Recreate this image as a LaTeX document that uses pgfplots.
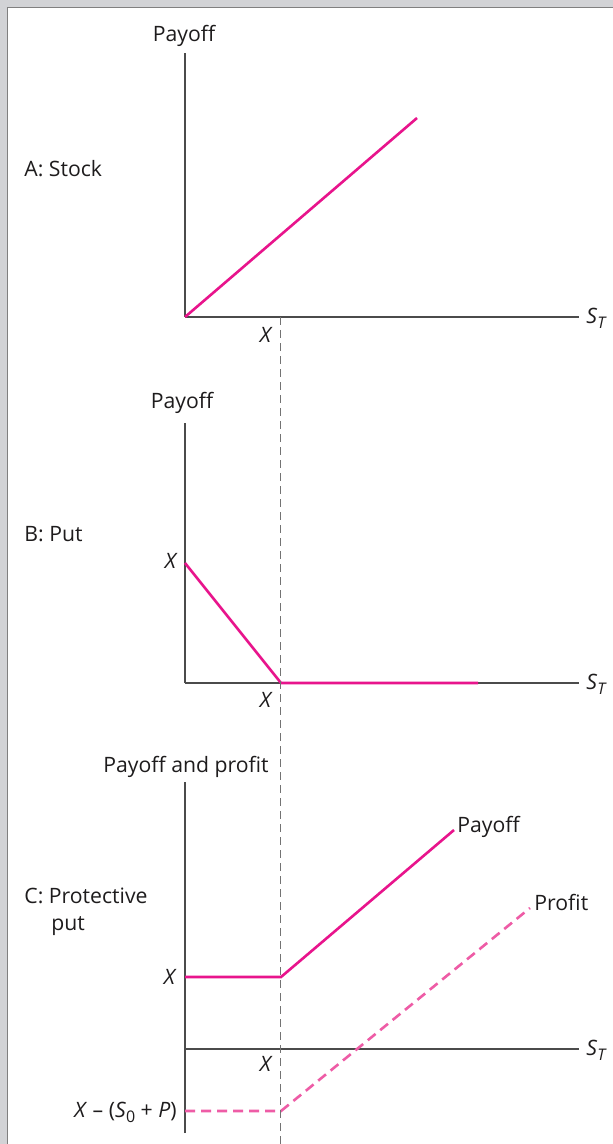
\documentclass[border=0pt]{standalone}
\usepackage{pgfplots}
\pgfplotsset{compat=1.18}
\usepackage{fontspec}
\setmainfont{Open Sans}

\definecolor{payoff}{RGB}{232,20,140}
\definecolor{profit}{RGB}{238,92,166}
\definecolor{axisgray}{RGB}{75,75,75}
\definecolor{framegray}{RGB}{210,211,214}
\definecolor{txt}{RGB}{30,28,29}

% one picture pixel = 0.5pt, so axes use x=y=0.5pt
\pgfplotsset{
  panel/.style={
    x=0.5pt, y=0.5pt,
    axis lines=middle,
    axis line style={-, axisgray, line width=0.8pt},
    xtick=\empty, ytick=\empty,
    xmin=0, clip=false,
    anchor=south west,
  },
}
\newcommand{\sub}[1]{\raisebox{-0.45ex}{\fontsize{8pt}{9pt}\selectfont #1}}
\newcommand{\X}{\textit{X}}
\newcommand{\ST}{\textit{S}\sub{\textit{T}}}

\begin{document}
\begin{tikzpicture}[x=0.5pt, y=-0.5pt,
  every node/.style={font=\fontsize{10.6pt}{13pt}\selectfont, text=txt, inner sep=0pt}]
\useasboundingbox (0,0) rectangle (613,1144);
\fill[framegray] (0,0) rectangle (613,1144);
\fill[white] (8,8) rectangle (613,1144);
\draw[gray, line width=0.5pt] (7.5,1144) -- (7.5,7.5) -- (613,7.5);

% A: Stock
\begin{axis}[panel, at={(92.5pt,-158.5pt)}, xmax=394, ymin=0, ymax=264]
\addplot[payoff, line width=1.3pt] coordinates {(0,0) (232,199)};
\end{axis}

% B: Put
\begin{axis}[panel, at={(92.5pt,-341.5pt)}, xmax=394, ymin=0, ymax=260]
\addplot[payoff, line width=1.3pt] coordinates {(0,120) (96,0) (293,0)};
\end{axis}

% C: Protective put
\begin{axis}[panel, at={(92.5pt,-566.5pt)}, xmax=394, ymin=-84, ymax=267]
\addplot[payoff, line width=1.3pt] coordinates {(0,72) (96,72) (269,219)};
\addplot[profit, line width=1.3pt, dash pattern=on 5pt off 3pt] coordinates {(0,-62) (96,-62) (345,141)};
\end{axis}

\draw[black!55, line width=0.55pt, dash pattern=on 4pt off 2.5pt] (280.5,317) -- (280.5,1144);

% labels, panel A
\node[anchor=base] at (184,42) {Payoff};
\node[anchor=base west] at (24,177) {A: Stock};
\node[anchor=base east] at (273,343) {\X};
\node[anchor=base west] at (586,323) {\ST};

% labels, panel B
\node[anchor=base] at (182,408) {Payoff};
\node[anchor=base west] at (24,541) {B: Put};
\node[anchor=base east] at (178,568) {\X};
\node[anchor=base east] at (273,707) {\X};
\node[anchor=base west] at (586,689) {\ST};

% labels, panel C
\node[anchor=base] at (186,772) {Payoff and profit};
\node[anchor=base west] at (24,903) {C: Protective};
\node[anchor=base west] at (51,930) {put};
\node[anchor=base east] at (177,984) {\X};
\node[anchor=base east] at (177,1117) {\X{} – (\textit{S}\sub{0} + \textit{P})};
\node[anchor=base east] at (273,1071) {\X};
\node[anchor=base west] at (586,1055) {\ST};
\node[anchor=base west] at (457,832) {Payoff};
\node[anchor=base west] at (534,910) {Profit};
\end{tikzpicture}
\end{document}
